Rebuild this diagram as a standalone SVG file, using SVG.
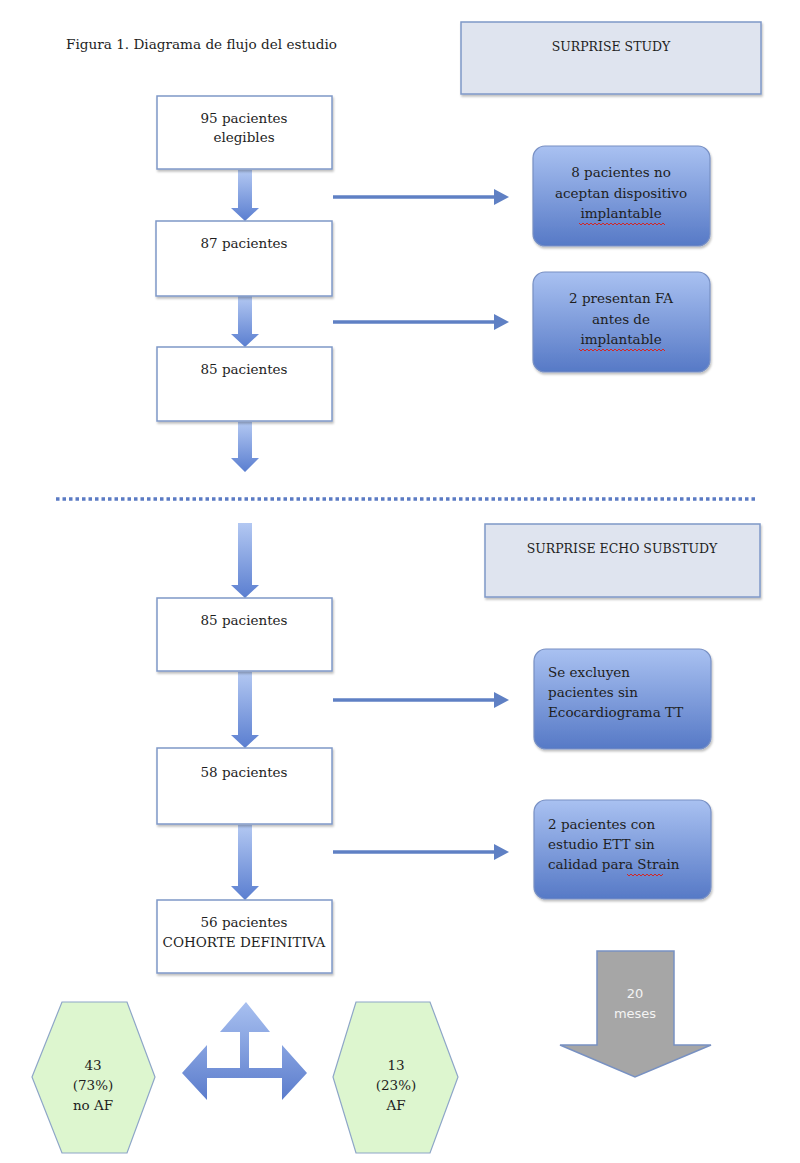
<svg xmlns="http://www.w3.org/2000/svg" width="800" height="1163" viewBox="0 0 800 1163">
<defs>
<style>
text{font-family:"DejaVu Serif","Liberation Serif",serif;fill:#1e1e1e;}
.t{font-size:13.5px;text-anchor:middle;}
.tl{font-size:13.5px;}
.title{font-size:13.6px;}
.hdr{font-size:12.5px;text-anchor:middle;}
.wbox{fill:#fff;stroke:#7f98c8;stroke-width:1.5;filter:url(#sh);}
.hbox{fill:#dfe4ef;stroke:#7f98c8;stroke-width:1.5;filter:url(#sh);}
.bbox{fill:url(#bg);stroke:#7890c4;stroke-width:1.2;filter:url(#sh);}
.down{fill:url(#ag);}
.hl{stroke:#5f80c4;stroke-width:3.5;fill:none;}
.hh{fill:#5f80c4;}
.hex{fill:#ddf6cf;stroke:#8ea6c8;stroke-width:1.2;}
.sq{stroke:#d02828;stroke-width:1;fill:none;}
.wt{font-size:13px;text-anchor:middle;fill:#f4f4f4;font-family:"DejaVu Sans","Liberation Sans",sans-serif;}
</style>
<filter id="sh" x="-10%" y="-10%" width="125%" height="130%">
<feDropShadow dx="1" dy="2" stdDeviation="1.2" flood-color="#000" flood-opacity="0.25"/>
</filter>
<linearGradient id="bg" x1="0" y1="0" x2="0" y2="1">
<stop offset="0" stop-color="#a9c1f1"/>
<stop offset="1" stop-color="#5679c6"/>
</linearGradient>
<linearGradient id="ag" x1="0" y1="0" x2="0" y2="1">
<stop offset="0" stop-color="#b3c8f2"/>
<stop offset="1" stop-color="#5a7ed0"/>
</linearGradient>
<linearGradient id="cg" x1="0" y1="0" x2="0" y2="1">
<stop offset="0" stop-color="#a8c0f0"/>
<stop offset="1" stop-color="#5b7ccc"/>
</linearGradient>
</defs>
<rect width="800" height="1163" fill="#fff"/>

<text class="title" x="66" y="49">Figura 1. Diagrama de flujo del estudio</text>

<g id="connectors">
<path class="down" d="M238,170 H252 V208 H259 L245,221 L231,208 H238 Z"/>
<path class="down" d="M238,296 H252 V334 H259 L245,347 L231,334 H238 Z"/>
<path class="down" d="M238,422 H252 V458 H259 L245,472 L231,458 H238 Z"/>
<path class="down" d="M238,523 H252 V585 H259 L245,598 L231,585 H238 Z"/>
<path class="down" d="M238,672 H252 V735 H259 L245,748 L231,735 H238 Z"/>
<path class="down" d="M238,825 H252 V886 H259 L245,900 L231,886 H238 Z"/>
<line class="hl" x1="333" y1="197" x2="496" y2="197"/>
<path class="hh" d="M494,189 L509,197 L494,205 Z"/>
<line class="hl" x1="333" y1="322" x2="496" y2="322"/>
<path class="hh" d="M494,314 L509,322 L494,330 Z"/>
<line class="hl" x1="333" y1="700" x2="496" y2="700"/>
<path class="hh" d="M494,692 L509,700 L494,708 Z"/>
<line class="hl" x1="333" y1="852" x2="496" y2="852"/>
<path class="hh" d="M494,844 L509,852 L494,860 Z"/>
<line x1="56" y1="499" x2="757" y2="499" stroke="#5b7bc4" stroke-width="3.5" stroke-dasharray="3.5 3"/>
<path d="M246,1002 L270,1032 H249 V1068 H282 V1045 L307,1073 L282,1100 V1078 H207 V1100 L182,1073 L207,1045 V1068 H240 V1032 H220 Z" fill="url(#cg)"/>
</g>

<g id="surprise-study">
<rect class="hbox" x="461" y="22" width="300" height="72"/>
<text class="hdr" x="611" y="51">SURPRISE STUDY</text>
</g>
<g id="n95">
<rect class="wbox" x="157" y="96" width="175" height="73"/>
<text class="t" x="244" y="123">95 pacientes</text>
<text class="t" x="244" y="142">elegibles</text>
</g>
<g id="n87">
<rect class="wbox" x="156" y="221" width="176" height="75"/>
<text class="t" x="244" y="248">87 pacientes</text>
</g>
<g id="n85a">
<rect class="wbox" x="157" y="347" width="175" height="74"/>
<text class="t" x="244" y="374">85 pacientes</text>
</g>
<g id="excl1">
<rect class="bbox" x="533" y="146" width="177" height="100" rx="12"/>
<text class="t" x="621" y="177">8 pacientes no</text>
<text class="t" x="621" y="198">aceptan dispositivo</text>
<text class="t" x="621" y="218">implantable</text>
<path class="sq" d="M579,223 l2,2 l2,-2 l2,2 l2,-2 l2,2 l2,-2 l2,2 l2,-2 l2,2 l2,-2 l2,2 l2,-2 l2,2 l2,-2 l2,2 l2,-2 l2,2 l2,-2 l2,2 l2,-2 l2,2 l2,-2 l2,2 l2,-2 l2,2 l2,-2 l2,2 l2,-2 l2,2 l2,-2 l2,2 l2,-2 l2,2 l2,-2 l2,2 l2,-2 l2,2 l2,-2 l2,2 l2,-2 l2,2 l2,-2 l2,2"/>
</g>
<g id="excl2">
<rect class="bbox" x="533" y="272" width="177" height="100" rx="12"/>
<text class="t" x="621" y="303">2 presentan FA</text>
<text class="t" x="621" y="324">antes de</text>
<text class="t" x="621" y="344">implantable</text>
<path class="sq" d="M579,349 l2,2 l2,-2 l2,2 l2,-2 l2,2 l2,-2 l2,2 l2,-2 l2,2 l2,-2 l2,2 l2,-2 l2,2 l2,-2 l2,2 l2,-2 l2,2 l2,-2 l2,2 l2,-2 l2,2 l2,-2 l2,2 l2,-2 l2,2 l2,-2 l2,2 l2,-2 l2,2 l2,-2 l2,2 l2,-2 l2,2 l2,-2 l2,2 l2,-2 l2,2 l2,-2 l2,2 l2,-2 l2,2 l2,-2 l2,2"/>
</g>

<g id="echo-substudy">
<rect class="hbox" x="485" y="524" width="275" height="73"/>
<text class="hdr" x="622" y="553">SURPRISE ECHO SUBSTUDY</text>
</g>
<g id="n85b">
<rect class="wbox" x="157" y="598" width="175" height="73"/>
<text class="t" x="244" y="625">85 pacientes</text>
</g>
<g id="n58">
<rect class="wbox" x="157" y="748" width="175" height="76"/>
<text class="t" x="244" y="777">58 pacientes</text>
</g>
<g id="n56">
<rect class="wbox" x="157" y="900" width="175" height="73"/>
<text class="t" x="244" y="927">56 pacientes</text>
<text class="t" x="244" y="947">COHORTE DEFINITIVA</text>
</g>
<g id="excl3">
<rect class="bbox" x="534" y="649" width="177" height="100" rx="12"/>
<text class="tl" x="548" y="677">Se excluyen</text>
<text class="tl" x="548" y="697">pacientes sin</text>
<text class="tl" x="548" y="717">Ecocardiograma TT</text>
</g>
<g id="excl4">
<rect class="bbox" x="534" y="800" width="177" height="99" rx="12"/>
<text class="tl" x="548" y="829">2 pacientes con</text>
<text class="tl" x="548" y="849">estudio ETT sin</text>
<text class="tl" x="548" y="869">calidad para Strain</text>
<path class="sq" d="M627,874 l2,2 l2,-2 l2,2 l2,-2 l2,2 l2,-2 l2,2 l2,-2 l2,2 l2,-2 l2,2 l2,-2 l2,2 l2,-2 l2,2 l2,-2 l2,2 l2,-2"/>
</g>

<g id="months">
<path d="M597,951 H674 V1045 H711 L635,1077 L560,1045 H597 Z" fill="#a6a6a6" stroke="#7891c2" stroke-width="1.5"/>
<text class="wt" x="635" y="998">20</text>
<text class="wt" x="635" y="1018">meses</text>
</g>

<g id="noaf">
<path class="hex" d="M62,1002 H127 L155,1077 L127,1153 H62 L32,1077 Z"/>
<text class="t" x="93" y="1070">43</text>
<text class="t" x="93" y="1090">(73%)</text>
<text class="t" x="93" y="1110">no AF</text>
</g>
<g id="af">
<path class="hex" d="M356,1002 H430 L458,1077 L430,1153 H356 L333,1077 Z"/>
<text class="t" x="396" y="1070">13</text>
<text class="t" x="396" y="1090">(23%)</text>
<text class="t" x="396" y="1110">AF</text>
</g>
</svg>
